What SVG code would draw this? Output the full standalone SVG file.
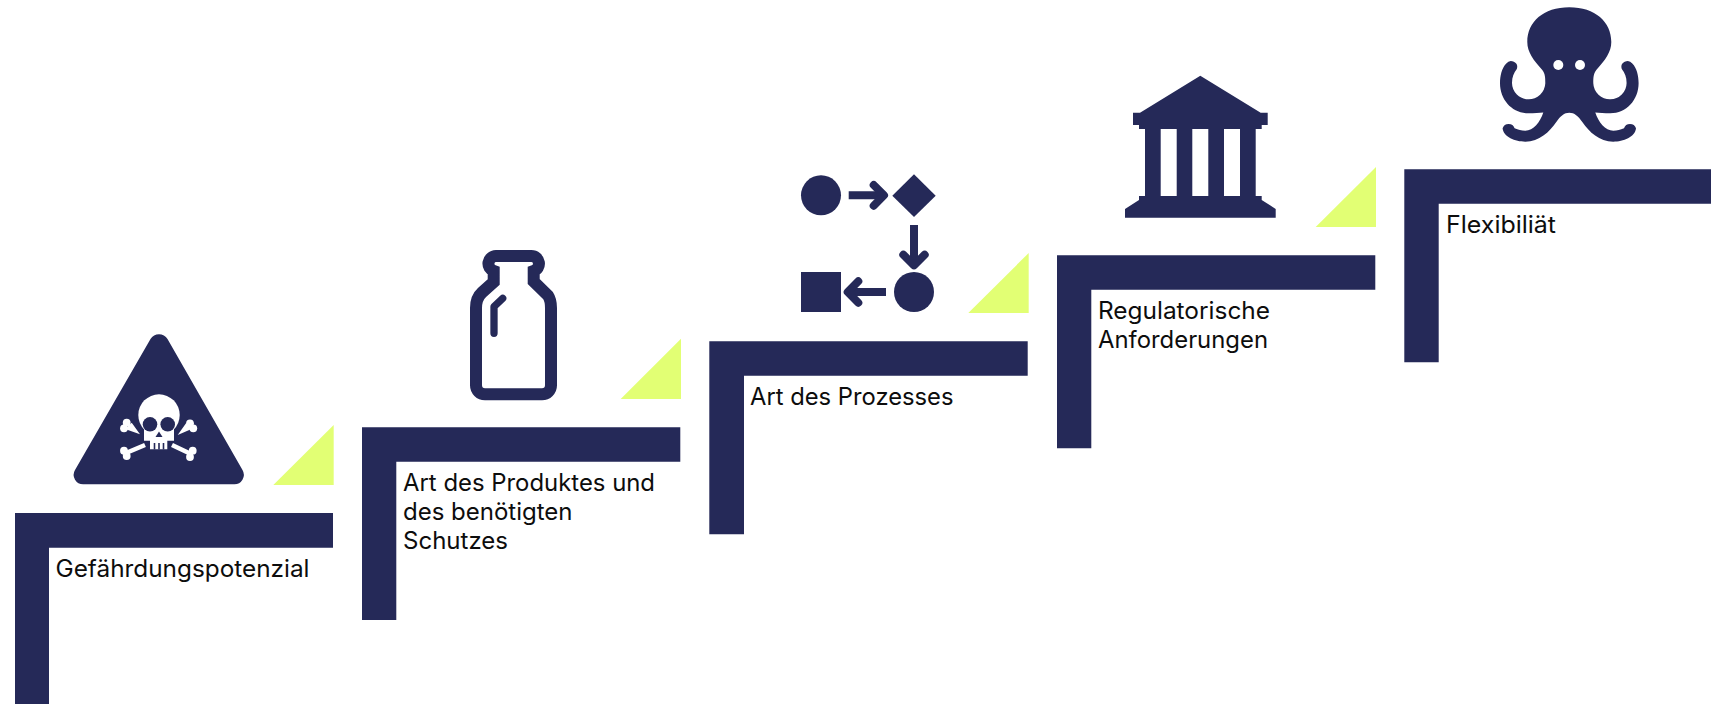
<svg xmlns="http://www.w3.org/2000/svg" width="1711" height="704" viewBox="0 0 1711 704">
<style>
.n{fill:#252958}
.l{fill:#E2FF74}
.w{fill:#fff}
.t{font-family:"Inter","Liberation Sans",sans-serif;font-size:24px;fill:#0d0d0d}
.a{fill:none;stroke:#252958;stroke-width:8}
.r{stroke-linecap:round;stroke-linejoin:round}
.b{stroke:#fff;stroke-width:4.6;stroke-linecap:butt}
</style>
<rect width="1711" height="704" fill="#fff"/>
<g id="step-1">
<path class="n" d="M15 513H333V547.7H49V704H15Z"/>
<path class="l" d="M273.3 485L333.7 425V485Z"/>
<g id="icon-hazard">
<path class="n" d="M150.5 339A10 10 0 0 1 167.5 339L242.5 470A9.5 9.5 0 0 1 234 484.3H83.5A9.5 9.5 0 0 1 75 470Z"/>
<circle class="w" cx="159" cy="415" r="20.7"/>
<path class="w" d="M144 420H174V440.7H167.3V449.3H150V440.7H144Z"/>
<circle class="n" cx="150" cy="424.3" r="7.3"/><circle class="n" cx="167.7" cy="424.3" r="7.3"/>
<path class="n" d="M159 431.5L162.5 437H155.5Z"/>
<path class="n" d="M153.7 443h1.6v6.5h-1.6zM158.2 443h1.6v6.5h-1.6zM162.7 443h1.6v6.5h-1.6z"/>
<path class="b" d="M126 453L145 445M191 454L172 445"/>
<path class="w" d="M125 429L140 434.3L131.7 422.7ZM193.3 428.3L177.7 435L186 423.3Z"/>
<g class="w">
<circle cx="126.7" cy="422.7" r="3.9"/><circle cx="124" cy="428.3" r="3.9"/>
<circle cx="124" cy="450.7" r="3.9"/><circle cx="126.7" cy="456" r="3.9"/>
<circle cx="192.7" cy="450.7" r="3.9"/><circle cx="190" cy="457" r="3.9"/>
<circle cx="190" cy="423.3" r="3.9"/><circle cx="193.3" cy="428.3" r="3.9"/>
</g>
</g>
<text class="t" x="55.5" y="576.7" textLength="254" lengthAdjust="spacingAndGlyphs">Gefährdungspotenzial</text>
</g>
<g id="step-2">
<path class="n" d="M362 427.3H680.3V461.7H396.3V620H362Z"/>
<path class="l" d="M620.7 399L681 338.7V399Z"/>
<g id="icon-bottle">
<path d="M496 256H531.3A7.7 7.7 0 0 1 533.7 271V281.5L548 295.5Q551 300 551 308V385.3A9 9 0 0 1 542 394.3H485A9 9 0 0 1 476 385.3V308Q476 298 482 292.5L493.7 282V271A7.7 7.7 0 0 1 496 256Z" fill="none" stroke="#252958" stroke-width="12"/>
<path class="a r" d="M494 333.3V306.7L502.7 298.3" style="stroke-width:7.3"/>
</g>
<text class="t" x="403" y="490.7" textLength="252" lengthAdjust="spacingAndGlyphs">Art des Produktes und</text>
<text class="t" x="403" y="520" textLength="169.5" lengthAdjust="spacingAndGlyphs">des benötigten</text>
<text class="t" x="403" y="549.3" textLength="105" lengthAdjust="spacingAndGlyphs">Schutzes</text>
</g>
<g id="step-3">
<path class="n" d="M709.3 341.3H1027.7V375.7H744V534.3H709.3Z"/>
<path class="l" d="M968.3 313L1028.7 253V313Z"/>
<g id="icon-process">
<circle class="n" cx="821" cy="195.3" r="20"/>
<path class="n" d="M892.3 195.7L914 174.3L935.7 195.7L914 217Z"/>
<circle class="n" cx="914" cy="292" r="20"/>
<rect class="n" x="801" y="272" width="40" height="40"/>
<path class="a" d="M848.7 195.3H883M914 225V264M886 292H849"/>
<path class="a r" d="M873.7 185L884 195.3L873.7 205.7M903.3 254.7L914 265.3L924.7 254.7M858.3 281.3L847.7 292L858.3 302.7"/>
</g>
<text class="t" x="750" y="405" textLength="203.5" lengthAdjust="spacingAndGlyphs">Art des Prozesses</text>
</g>
<g id="step-4">
<path class="n" d="M1057 255.3H1375.3V289.7H1091.3V448.3H1057Z"/>
<path class="l" d="M1315.7 227L1376 167V227Z"/>
<g id="icon-institution">
<path class="n" d="M1200.3 75.7L1260.7 112.7H1267.7V125H1261.7V129H1255.7V196H1261.7V200L1275.7 209V217.7H1125V209L1139 200V196H1145V129H1139V125H1133V112.7H1140Z"/>
<path class="w" d="M1160.7 129H1176.7V196H1160.7ZM1192.3 129H1208.3V196H1192.3ZM1224 129H1240V196H1224Z"/>
</g>
<text class="t" x="1098" y="318.7" textLength="172" lengthAdjust="spacingAndGlyphs">Regulatorische</text>
<text class="t" x="1098" y="348" textLength="170" lengthAdjust="spacingAndGlyphs">Anforderungen</text>
</g>
<g id="step-5">
<path class="n" d="M1404.3 169.3H1711V203.7H1438.7V362.3H1404.3Z"/>
<g id="icon-octopus" transform="translate(1569.3 0)">
<path class="n" d="M0 7.3C26 7.3 42 22 42 42C42 52 36 60 27 70C24 74 24 78 24 83.3A16.5 16.5 0 0 0 41 99.3A16.5 16.5 0 0 0 57.3 83C57.3 77 55.5 73 52.5 69A6 6 0 0 1 63 63.5C67.5 68 69.3 76 69.3 83.3C69.3 100 57 113.3 41 113.3C35 113.3 30 113 26 112.5C29 122 36 130.7 44 130.7C48 130.7 51 130 54.7 128.3A6.3 6.3 0 0 1 66.7 128.3C66 137 54 141.7 44 141.7C30 141.7 20 132 13 122C9 116 5 112.7 0 112.7C-5 112.7 -9 116 -13 122C-20 132 -30 141.7 -44 141.7C-54 141.7 -66 137 -66.7 128.3A6.3 6.3 0 0 1 -54.7 128.3C-51 130 -48 130.7 -44 130.7C-36 130.7 -29 122 -26 112.5C-30 113 -35 113.3 -41 113.3C-57 113.3 -69.3 100 -69.3 83.3C-69.3 76 -67.5 68 -63 63.5A6 6 0 0 1 -52.5 69C-55.5 73 -57.3 77 -57.3 83A16.5 16.5 0 0 0 -41 99.3A16.5 16.5 0 0 0 -24 83.3C-24 78 -24 74 -27 70C-36 60 -42 52 -42 42C-42 22 -26 7.3 0 7.3Z"/>
<circle class="w" cx="-11" cy="65" r="5"/><circle class="w" cx="10.7" cy="65" r="5"/>
</g>
<text class="t" x="1446" y="232.7" textLength="110" lengthAdjust="spacingAndGlyphs">Flexibiliät</text>
</g>
</svg>
